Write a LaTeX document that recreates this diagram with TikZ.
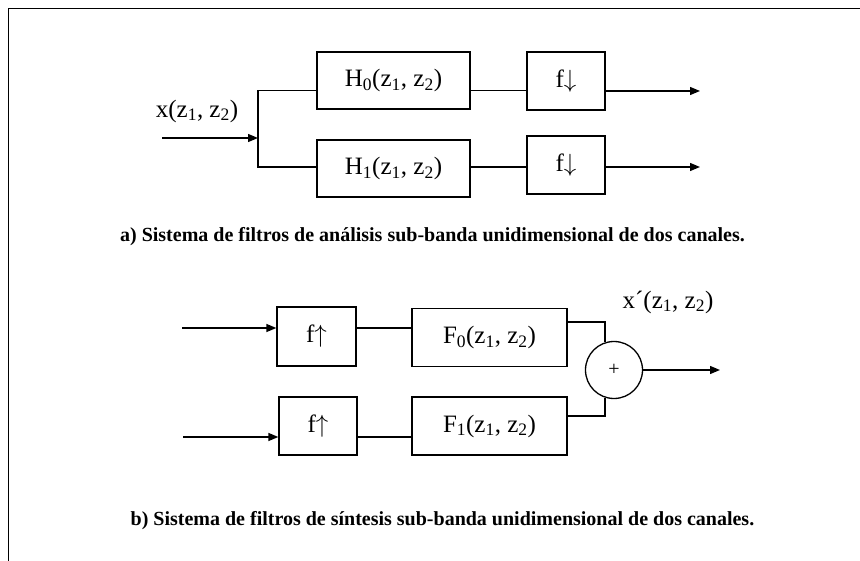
\documentclass[tikz,border=0pt]{standalone}
\usepackage{fontspec}
\setmainfont{Liberation Serif}
\usetikzlibrary{arrows.meta}
\begin{document}
\begin{tikzpicture}[x=1pt,y=-1pt,
  line width=1.3pt,
  blk/.style={draw,rectangle,inner sep=0pt,font=\fontsize{25}{30}\selectfont},
  arr/.style={-{Triangle[length=10pt,width=8pt]}},
  lbl/.style={font=\fontsize{25}{30}\selectfont,inner sep=0pt},
  captxt/.style={font=\fontsize{20}{24}\selectfont\bfseries,inner sep=0pt}]
\useasboundingbox (0,0) rectangle (860,561);
\draw[line width=1pt] (8,561) -- (8,9) -- (860,9);
% part a
\node[blk,minimum width=153pt,minimum height=57pt] (H0) at (393.5,80.5) {H\textsubscript{0}(z\textsubscript{1}, z\textsubscript{2})};
\node[blk,minimum width=153pt,minimum height=57pt] (H1) at (393.5,168.5) {H\textsubscript{1}(z\textsubscript{1}, z\textsubscript{2})};
\node[blk,minimum width=78pt,minimum height=58pt] (d0) at (566,81) {f$\downarrow$};
\node[blk,minimum width=78pt,minimum height=58pt] (d1) at (566,165) {f$\downarrow$};
\node[lbl] (xin) at (197,111) {x(z\textsubscript{1}, z\textsubscript{2})};
\coordinate (in) at (162,138);
\coordinate (br) at (258,138);
\coordinate (ya) at (0,90.5);
\coordinate (yb) at (0,167);
\coordinate (o0) at (700,91);
\coordinate (o1) at (700,167);
\draw[arr] (in) -- (br);
\draw (br) |- (H0.west |- ya);
\draw (br) |- (H1.west |- yb);
\draw (H0.east |- ya) -- (d0.west |- ya);
\draw (H1.east |- yb) -- (d1.west |- yb);
\draw[arr] (d0.east |- o0) -- (o0);
\draw[arr] (d1.east |- o1) -- (o1);
\node[captxt] (capa) at (432.5,237) {a) Sistema de filtros de análisis sub-banda unidimensional de dos canales.};
% part b
\node[blk,minimum width=79pt,minimum height=59pt] (u0) at (316.5,336.5) {f$\uparrow$};
\node[blk,minimum width=78pt,minimum height=58pt] (u1) at (318,426) {f$\uparrow$};
\node[blk,minimum width=155pt,minimum height=58pt] (F0) at (489.5,337.5) {F\textsubscript{0}(z\textsubscript{1}, z\textsubscript{2})};
\node[blk,minimum width=155pt,minimum height=58pt] (F1) at (489.5,426) {F\textsubscript{1}(z\textsubscript{1}, z\textsubscript{2})};
\node[draw,circle,minimum size=57pt,inner sep=0pt,font=\fontsize{20}{24}\selectfont] (sum) at (614,370) {+};
\node[lbl] (xout) at (668,302) {x´(z\textsubscript{1}, z\textsubscript{2})};
\coordinate (i0) at (182,328);
\coordinate (i1) at (183,437);
\coordinate (yc) at (0,322);
\coordinate (yd) at (0,416);
\coordinate (out) at (720,370);
\draw[arr] (i0) -- (u0.west |- i0);
\draw[arr] (i1) -- (u1.west |- i1);
\draw (u0.east |- i0) -- (F0.west |- i0);
\draw (u1.east |- i1) -- (F1.west |- i1);
\draw (F0.east |- yc) -| (sum.108);
\draw (F1.east |- yd) -| (sum.252);
\draw[arr] (sum.east) -- (out);
\node[captxt] (capb) at (442.5,521) {b) Sistema de filtros de síntesis sub-banda unidimensional de dos canales.};
\end{tikzpicture}
\end{document}
